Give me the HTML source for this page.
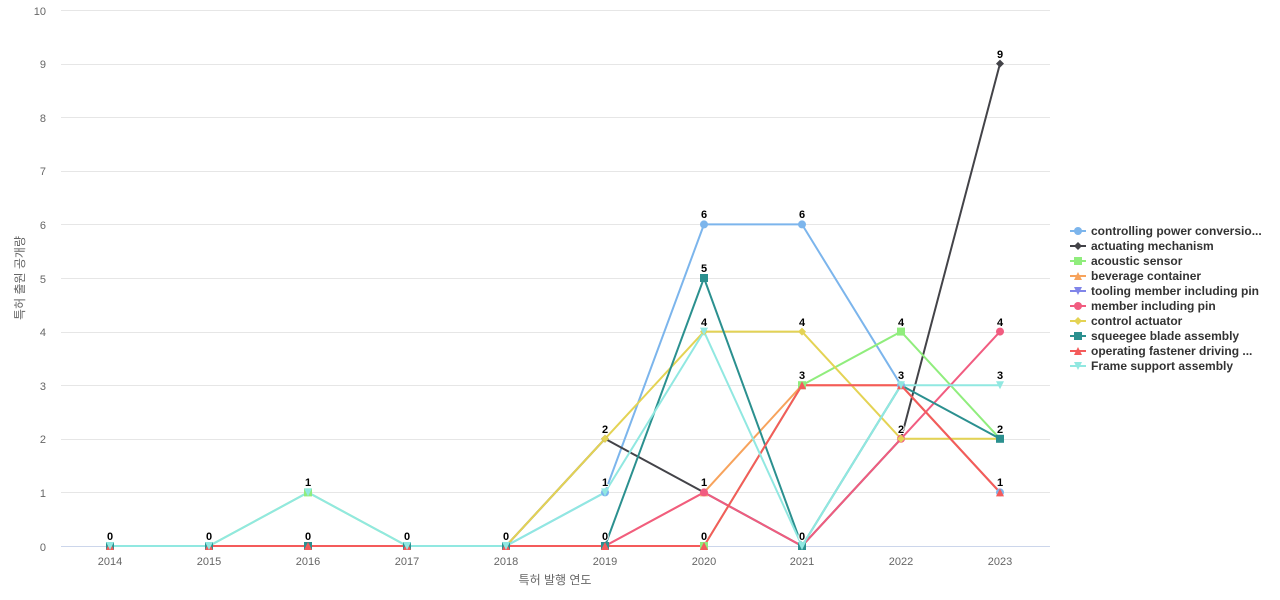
<!DOCTYPE html>
<html><head><meta charset="utf-8"><style>
html,body{margin:0;padding:0;background:#fff;}
svg{display:block;font-family:"Liberation Sans","Noto Sans CJK KR",sans-serif;}
</style></head><body>
<svg width="1280" height="600" viewBox="0 0 1280 600" xmlns="http://www.w3.org/2000/svg">
<rect width="1280" height="600" fill="#fff"/>
<g stroke="#e6e6e6" stroke-width="1">
<line x1="61" x2="1050" y1="10.5" y2="10.5"/>
<line x1="61" x2="1050" y1="64.5" y2="64.5"/>
<line x1="61" x2="1050" y1="117.5" y2="117.5"/>
<line x1="61" x2="1050" y1="171.5" y2="171.5"/>
<line x1="61" x2="1050" y1="224.5" y2="224.5"/>
<line x1="61" x2="1050" y1="278.5" y2="278.5"/>
<line x1="61" x2="1050" y1="332.5" y2="332.5"/>
<line x1="61" x2="1050" y1="385.5" y2="385.5"/>
<line x1="61" x2="1050" y1="439.5" y2="439.5"/>
<line x1="61" x2="1050" y1="492.5" y2="492.5"/>
</g>
<line x1="61" x2="1050" y1="546.5" y2="546.5" stroke="#ccd6eb" stroke-width="1"/>
<g fill="#666" font-size="11" text-anchor="end">
<text x="46" y="15">10</text><text x="46" y="68">9</text><text x="46" y="122">8</text>
<text x="46" y="175">7</text><text x="46" y="229">6</text><text x="46" y="283">5</text>
<text x="46" y="336">4</text><text x="46" y="390">3</text><text x="46" y="443">2</text>
<text x="46" y="497">1</text><text x="46" y="551">0</text>
</g>
<g fill="#666" font-size="11" text-anchor="middle">
<text x="110" y="565">2014</text><text x="209" y="565">2015</text><text x="308" y="565">2016</text>
<text x="407" y="565">2017</text><text x="506" y="565">2018</text><text x="605" y="565">2019</text>
<text x="704" y="565">2020</text><text x="802" y="565">2021</text><text x="901" y="565">2022</text>
<text x="1000" y="565">2023</text>
</g>
<text x="555" y="584" fill="#666" font-size="12" text-anchor="middle">특허 발행 연도</text>
<text transform="translate(24,278) rotate(-90)" fill="#666" font-size="12" text-anchor="middle">특허 출원 공개량</text>

<g fill="none" stroke-width="2" stroke-linejoin="round">
<polyline stroke="#7cb5ec" points="110,546 209,546 308,546 407,546 506,546 605,492.4 704,224.4 802,224.4 901,385.2 1000,492.4"/>
<polyline stroke="#434348" points="110,546 209,546 308,546 407,546 506,546 605,438.8 704,492.4 802,546 901,438.8 1000,63.6"/>
<polyline stroke="#90ed7d" points="110,546 209,546 308,492.4 407,546 506,546 605,546 704,546 802,385.2 901,331.6 1000,438.8"/>
<polyline stroke="#f7a35c" points="110,546 209,546 308,546 407,546 506,546 605,546 704,492.4 802,385.2 901,385.2 1000,492.4"/>
<polyline stroke="#8085e9" points="110,546 209,546 308,546 407,546 506,546 605,546 704,546"/>
<polyline stroke="#f15c80" points="110,546 209,546 308,546 407,546 506,546 605,546 704,492.4 802,546 901,438.8 1000,331.6"/>
<polyline stroke="#e4d354" points="110,546 209,546 308,546 407,546 506,546 605,438.8 704,331.6 802,331.6 901,438.8 1000,438.8"/>
<polyline stroke="#2b908f" points="110,546 209,546 308,546 407,546 506,546 605,546 704,278 802,546 901,385.2 1000,438.8"/>
<polyline stroke="#f45b5b" points="110,546 209,546 308,546 407,546 506,546 605,546 704,546 802,385.2 901,385.2 1000,492.4"/>
<polyline stroke="#91e8e1" points="110,546 209,546 308,492.4 407,546 506,546 605,492.4 704,331.6 802,546 901,385.2 1000,385.2"/>
</g>

<g fill="#7cb5ec">
<circle cx="605" cy="492.4" r="4"/><circle cx="704" cy="224.4" r="4"/><circle cx="802" cy="224.4" r="4"/><circle cx="901" cy="385.2" r="4"/><circle cx="1000" cy="492.4" r="4"/>
</g>
<g fill="#434348">
<path d="M1000,59.6 L1004,63.6 L1000,67.6 L996,63.6Z"/><path d="M605,434.8 L609,438.8 L605,442.8 L601,438.8Z"/><path d="M901,434.8 L905,438.8 L901,442.8 L897,438.8Z"/>
</g>
<g fill="#90ed7d">
<rect x="304" y="488.4" width="8" height="8"/><rect x="897" y="327.6" width="8" height="8"/><rect x="798" y="381.2" width="8" height="8"/><rect x="700" y="542" width="8" height="8"/>
</g>
<g fill="#f7a35c">
<path d="M704,488.4 L708,496.4 L700,496.4Z"/>
</g>
<g fill="#f15c80">
<circle cx="704" cy="492.4" r="4"/><circle cx="901" cy="438.8" r="4"/><circle cx="1000" cy="331.6" r="4"/><circle cx="605" cy="546" r="4"/>
</g>
<g fill="#e4d354">
<path d="M605,434.8 L609,438.8 L605,442.8 L601,438.8Z"/><path d="M704,327.6 L708,331.6 L704,335.6 L700,331.6Z"/><path d="M802,327.6 L806,331.6 L802,335.6 L798,331.6Z"/><path d="M901,434.8 L905,438.8 L901,442.8 L897,438.8Z"/><path d="M1000,434.8 L1004,438.8 L1000,442.8 L996,438.8Z"/>
</g>
<g fill="#2b908f">
<rect x="106" y="542" width="8" height="8"/><rect x="205" y="542" width="8" height="8"/><rect x="304" y="542" width="8" height="8"/><rect x="403" y="542" width="8" height="8"/><rect x="502" y="542" width="8" height="8"/><rect x="601" y="542" width="8" height="8"/>
<rect x="700" y="274" width="8" height="8"/><rect x="798" y="542" width="8" height="8"/><rect x="996" y="434.8" width="8" height="8"/>
</g>
<g fill="#f45b5b">
<path d="M110,542 L114,550 L106,550Z"/><path d="M209,542 L213,550 L205,550Z"/><path d="M308,542 L312,550 L304,550Z"/><path d="M407,542 L411,550 L403,550Z"/><path d="M506,542 L510,550 L502,550Z"/><path d="M605,542 L609,550 L601,550Z"/><path d="M704,542 L708,550 L700,550Z"/>
<path d="M802,381.2 L806,389.2 L798,389.2Z"/><path d="M901,381.2 L905,389.2 L897,389.2Z"/><path d="M1000,488.4 L1004,496.4 L996,496.4Z"/>
</g>
<g fill="#91e8e1">
<path d="M106,542 L114,542 L110,550Z"/><path d="M205,542 L213,542 L209,550Z"/><path d="M304,488.4 L312,488.4 L308,496.4Z"/><path d="M403,542 L411,542 L407,550Z"/><path d="M502,542 L510,542 L506,550Z"/>
<path d="M601,488.4 L609,488.4 L605,496.4Z"/><path d="M700,327.6 L708,327.6 L704,335.6Z"/><path d="M798,542 L806,542 L802,550Z"/><path d="M897,381.2 L905,381.2 L901,389.2Z"/><path d="M996,381.2 L1004,381.2 L1000,389.2Z"/>
</g>

<g font-size="11" font-weight="bold" fill="#000" text-anchor="middle" stroke="#fff" stroke-width="2" paint-order="stroke" stroke-linejoin="round">
<text x="110" y="540">0</text><text x="209" y="540">0</text><text x="308" y="486">1</text><text x="308" y="540">0</text>
<text x="407" y="540">0</text><text x="506" y="540">0</text>
<text x="605" y="433">2</text><text x="605" y="486">1</text><text x="605" y="540">0</text>
<text x="704" y="218">6</text><text x="704" y="272">5</text><text x="704" y="326">4</text><text x="704" y="486">1</text><text x="704" y="540">0</text>
<text x="802" y="218">6</text><text x="802" y="326">4</text><text x="802" y="379">3</text><text x="802" y="540">0</text>
<text x="901" y="326">4</text><text x="901" y="379">3</text><text x="901" y="433">2</text>
<text x="1000" y="58">9</text><text x="1000" y="326">4</text><text x="1000" y="379">3</text><text x="1000" y="433">2</text><text x="1000" y="486">1</text>
</g>

<g font-size="12" font-weight="bold" fill="#333">
<line x1="1070" x2="1086" y1="231" y2="231" stroke="#7cb5ec" stroke-width="2"/><circle cx="1078" cy="231" r="4" fill="#7cb5ec"/>
<text x="1091" y="235">controlling power conversio...</text>
<line x1="1070" x2="1086" y1="246" y2="246" stroke="#434348" stroke-width="2"/><path d="M1078,242 L1082,246 L1078,250 L1074,246Z" fill="#434348"/>
<text x="1091" y="250">actuating mechanism</text>
<line x1="1070" x2="1086" y1="261" y2="261" stroke="#90ed7d" stroke-width="2"/><rect x="1074" y="257" width="8" height="8" fill="#90ed7d"/>
<text x="1091" y="265">acoustic sensor</text>
<line x1="1070" x2="1086" y1="276" y2="276" stroke="#f7a35c" stroke-width="2"/><path d="M1078,272 L1082,280 L1074,280Z" fill="#f7a35c"/>
<text x="1091" y="280">beverage container</text>
<line x1="1070" x2="1086" y1="291" y2="291" stroke="#8085e9" stroke-width="2"/><path d="M1074,287 L1082,287 L1078,295Z" fill="#8085e9"/>
<text x="1091" y="295">tooling member including pin</text>
<line x1="1070" x2="1086" y1="306" y2="306" stroke="#f15c80" stroke-width="2"/><circle cx="1078" cy="306" r="4" fill="#f15c80"/>
<text x="1091" y="310">member including pin</text>
<line x1="1070" x2="1086" y1="321" y2="321" stroke="#e4d354" stroke-width="2"/><path d="M1078,317 L1082,321 L1078,325 L1074,321Z" fill="#e4d354"/>
<text x="1091" y="325">control actuator</text>
<line x1="1070" x2="1086" y1="336" y2="336" stroke="#2b908f" stroke-width="2"/><rect x="1074" y="332" width="8" height="8" fill="#2b908f"/>
<text x="1091" y="340">squeegee blade assembly</text>
<line x1="1070" x2="1086" y1="351" y2="351" stroke="#f45b5b" stroke-width="2"/><path d="M1078,347 L1082,355 L1074,355Z" fill="#f45b5b"/>
<text x="1091" y="355">operating fastener driving ...</text>
<line x1="1070" x2="1086" y1="366" y2="366" stroke="#91e8e1" stroke-width="2"/><path d="M1074,362 L1082,362 L1078,370Z" fill="#91e8e1"/>
<text x="1091" y="370">Frame support assembly</text>
</g>
</svg>
</body></html>
